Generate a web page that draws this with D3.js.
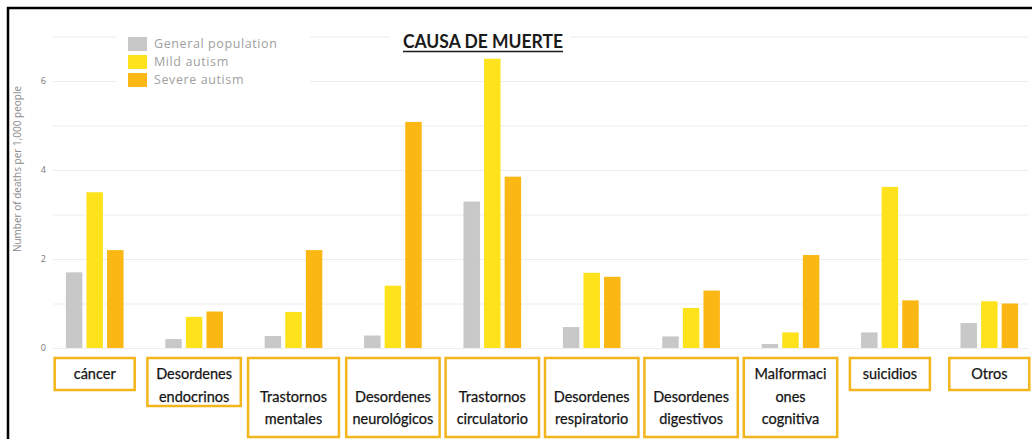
<!DOCTYPE html>
<html>
<head>
<meta charset="utf-8">
<script src="https://cdn.jsdelivr.net/npm/d3@7"></script>
<style>
  body { margin: 0; background: #fff; }
  svg { display: block; }
</style>
</head>
<body>
<div id="chart"></div>
<script>
// Causes of death, deaths per 1,000 people
var categories = ["cancer", "endocrinos", "mentales", "neurologicos", "circulatorio",
    "respiratorio", "digestivos", "malformaciones", "suicidios", "otros"];

// box labels, one entry per line ("" = empty first line)
var labelLines = [
    ["cáncer"],
    ["Desordenes", "endocrinos"],
    ["", "Trastornos", "mentales"],
    ["", "Desordenes", "neurológicos"],
    ["", "Trastornos", "circulatorio"],
    ["", "Desordenes", "respiratorio"],
    ["", "Desordenes", "digestivos"],
    ["Malformaci", "ones", "cognitiva"],
    ["suicidios"],
    ["Otros"]
];

var seriesNames = ["General population", "Mild autism", "Severe autism"];
var generalPop = [1.7, 0.2, 0.27, 0.28, 3.29, 0.47, 0.26, 0.09, 0.35, 0.56];
var mildAutism = [3.5, 0.7, 0.81, 1.4, 6.5, 1.69, 0.9, 0.35, 3.62, 1.05];
var severeAutism = [2.2, 0.82, 2.2, 5.08, 3.85, 1.6, 1.29, 2.09, 1.07, 1.0];
var yTicks = [0, 2, 4, 6];

var svgWidth = 1032;
var svgHeight = 439;

var svg = d3.select("#chart")
    .append("svg")
    .attr("width", svgWidth)
    .attr("height", svgHeight);

var colors = d3.scaleOrdinal()
    .domain(seriesNames)
    .range(["#c8c8c8", "#fde21c", "#fbb815"]);

var data = categories.map(function(c, i) {
    return { cat: c, values: [generalPop[i], mildAutism[i], severeAutism[i]] };
});

// scales
var x0 = d3.scaleBand()
    .domain(categories)
    .range([45, 1039])
    .paddingInner(0.42)
    .paddingOuter(0.21);

var x1 = d3.scaleBand()
    .domain(seriesNames)
    .range([0, x0.bandwidth()])
    .paddingInner(0.2);

var yScale = d3.scaleLinear()
    .domain([0, 7])
    .range([348, 36.5]);

// gridlines, one per unit
svg.append("g")
    .selectAll("line")
    .data(d3.range(0, 8))
    .enter()
    .append("line")
    .attr("x1", 53)
    .attr("x2", 1028)
    .attr("y1", d => yScale(d) + 0.5)
    .attr("y2", d => yScale(d) + 0.5)
    .attr("stroke", "#ececec")
    .attr("stroke-width", 1);

// y tick labels (no axis line)
var leftAxis = d3.axisLeft(yScale)
    .tickValues(yTicks)
    .tickFormat(d3.format("d"))
    .tickSize(0)
    .tickPadding(0);
var yAxisG = svg.append("g")
    .attr("transform", "translate(46, 0)")
    .call(leftAxis);
yAxisG.select(".domain").remove();
yAxisG.selectAll("text")
    .attr("font-family", "Open Sans, DejaVu Sans, sans-serif")
    .attr("font-size", "9px")
    .attr("fill", "#777");

svg.append("text")
    .attr("transform", "translate(21, 169) rotate(-90)")
    .attr("text-anchor", "middle")
    .attr("font-family", "Open Sans, DejaVu Sans, sans-serif")
    .attr("font-size", "10px")
    .attr("fill", "#8a8a8a")
    .text("Number of deaths per 1,000 people");

// bars
var groups = svg.append("g")
    .selectAll("g")
    .data(data)
    .enter()
    .append("g")
    .attr("transform", d => `translate(${x0(d.cat)}, 0)`);

groups.selectAll("rect")
    .data(d => d.values.map((v, j) => ({ name: seriesNames[j], value: v })))
    .enter()
    .append("rect")
    .attr("x", d => x1(d.name))
    .attr("y", d => yScale(d.value))
    .attr("width", x1.bandwidth())
    .attr("height", d => yScale(0) - yScale(d.value))
    .attr("fill", d => colors(d.name));

// legend, on a white patch over the gridlines
var legend = svg.append("g").attr("transform", "translate(128, 37)");
legend.append("rect")
    .attr("x", -12).attr("y", -10)
    .attr("width", 194).attr("height", 64)
    .attr("fill", "#fff");
seriesNames.forEach(function(name, i) {
    legend.append("rect")
        .attr("x", 0)
        .attr("y", i * 18)
        .attr("width", 19)
        .attr("height", 14)
        .attr("fill", colors(name));
    legend.append("text")
        .attr("x", 26)
        .attr("y", i * 18 + 11)
        .attr("font-family", "Open Sans, DejaVu Sans, sans-serif")
        .attr("font-size", "12.5px")
        .attr("letter-spacing", "0.6px")
        .attr("fill", "#a0a0a0")
        .text(name);
});

// title
var title = svg.append("g");
title.append("rect")
    .attr("x", 390).attr("y", 14)
    .attr("width", 180).attr("height", 44)
    .attr("fill", "#fff");
title.append("text")
    .attr("x", 403)
    .attr("y", 48)
    .attr("font-family", "Lato, Liberation Sans, sans-serif")
    .attr("font-weight", "bold")
    .attr("font-size", "19px")
    .attr("textLength", 160)
    .attr("lengthAdjust", "spacingAndGlyphs")
    .attr("fill", "#1a1a1a")
    .text("CAUSA DE MUERTE");
title.append("line")
    .attr("x1", 403).attr("x2", 563)
    .attr("y1", 51.5).attr("y2", 51.5)
    .attr("stroke", "#1a1a1a")
    .attr("stroke-width", 1.5);

// category label boxes
var lineH = 22.5;
var boxTop = 358;
var boxes = svg.append("g")
    .selectAll("g")
    .data(data)
    .enter()
    .append("g");

boxes.each(function(d, i) {
    var g = d3.select(this);
    var lines = labelLines[i];
    var cx = x0(d.cat) + x0.bandwidth() / 2;
    var rect = g.append("rect");
    var txt = g.append("text")
        .attr("text-anchor", "middle")
        .attr("font-family", "Lato, Liberation Sans, sans-serif")
        .attr("font-size", "14.5px")
        .attr("fill", "#141414")
        .attr("stroke", "#141414")
        .attr("stroke-width", 0.25);
    lines.forEach(function(l, k) {
        txt.append("tspan")
            .attr("x", cx)
            .attr("y", boxTop + 21 + k * lineH)
            .text(l);
    });
    var w = txt.node().getBBox().width;
    var bw = Math.min(Math.max(w + 24, 80), x0.step() - 6);
    var bh = lines.length == 1 ? 32 : (lines.length == 2 ? 48 : 79);
    rect.attr("x", cx - bw / 2)
        .attr("y", boxTop)
        .attr("width", bw)
        .attr("height", bh)
        .attr("fill", "#fff")
        .attr("stroke", "#f3b51c")
        .attr("stroke-width", 2.5);
});

// black frame on top and left
svg.append("line")
    .attr("x1", 7).attr("x2", svgWidth)
    .attr("y1", 8).attr("y2", 8)
    .attr("stroke", "#000").attr("stroke-width", 2.5);
svg.append("line")
    .attr("x1", 8).attr("x2", 8)
    .attr("y1", 7).attr("y2", svgHeight)
    .attr("stroke", "#000").attr("stroke-width", 2.5);
</script>
</body>
</html>
